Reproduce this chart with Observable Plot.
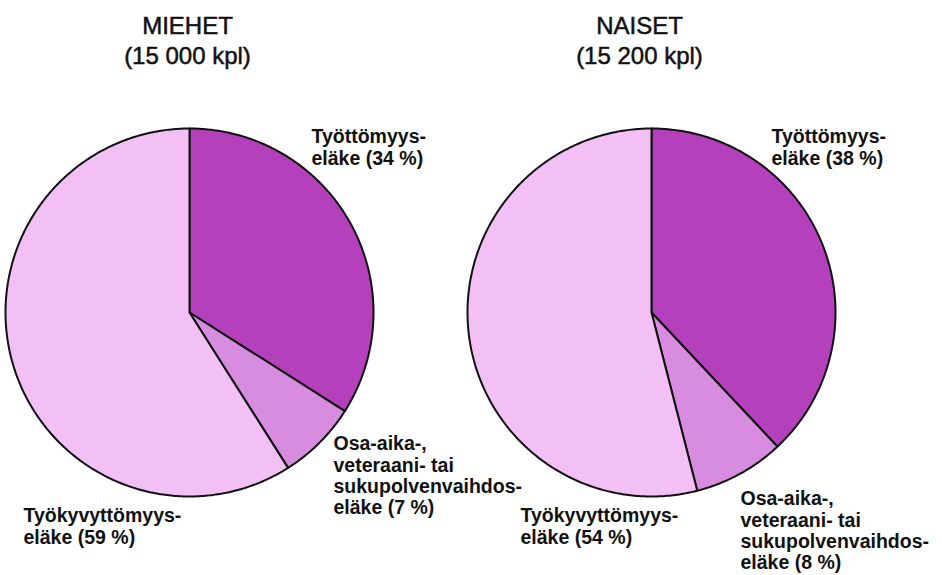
<!DOCTYPE html>
<html>
<head>
<meta charset="utf-8">
<script src="https://cdn.jsdelivr.net/npm/d3@7"></script>
<script src="https://cdn.jsdelivr.net/npm/@observablehq/plot@0.6"></script>
<style>
  html, body { margin: 0; padding: 0; background: #fff; }
  .titles text { stroke: #111; stroke-width: 0.5px; }
</style>
</head>
<body>
<div id="chart"></div>
<script>
// ---- data ----
const groups = ["MIEHET", "NAISET"];
const counts = ["(15 000 kpl)", "(15 200 kpl)"];
const categories = ["Työttömyyseläke", "Osa-aika-, veteraani- tai sukupolvenvaihdoseläke", "Työkyvyttömyyseläke"];
const categoryLines = [["Työttömyys-", "eläke"], ["Osa-aika-,", "veteraani- tai", "sukupolvenvaihdos-", "eläke"], ["Työkyvyttömyys-", "eläke"]];
const miehet = [34, 7, 59];
const naiset = [38, 8, 54];
const values = [miehet, naiset];

// ---- layout ----
const W = 942, H = 575;
const R = 184;
const centers = [[189, 312], [651, 312]];
const titleAnchors = [[187, 12], [639, 12]];
const labelAnchors = [
  [[311, 128], [333, 435], [23, 507]],
  [[771, 128], [740, 490], [520, 507]]
];
const colors = ["#b440bb", "#d88ce0", "#f2c0f4"];

// ---- build pie geometry ----
const pts = [];
const labels = [];
groups.forEach((g, gi) => {
  const [cx, cy] = centers[gi];
  const arcs = d3.pie().sort(null)(values[gi]);
  arcs.forEach((a, ci) => {
    const key = g + "-" + ci;
    const cat = categories[ci];
    const n = Math.max(2, Math.ceil((a.endAngle - a.startAngle) * 90));
    pts.push({key, cat, x: cx, y: cy});
    for (let i = 0; i <= n; i++) {
      const t = a.startAngle + (a.endAngle - a.startAngle) * i / n;
      pts.push({key, cat, x: cx + R * Math.sin(t), y: cy - R * Math.cos(t)});
    }
    pts.push({key, cat, x: cx, y: cy});
    const lines = categoryLines[ci].slice();
    lines[lines.length - 1] = lines[lines.length - 1] + ` (${values[gi][ci]} %)`;
    labels.push({x: labelAnchors[gi][ci][0], y: labelAnchors[gi][ci][1], text: lines.join("\n")});
  });
});
const titles = groups.map((g, gi) => ({x: titleAnchors[gi][0], y: titleAnchors[gi][1], text: g + "\n" + counts[gi]}));

const chart = Plot.plot({
  width: W,
  height: H,
  margin: 0,
  x: {domain: [0, W], range: [0, W], axis: null},
  y: {domain: [0, H], range: [0, H], axis: null},
  color: {domain: categories, range: colors},
  style: {fontFamily: "'Liberation Sans', Arial, sans-serif", background: "#fff"},
  marks: [
    Plot.line(pts, {x: "x", y: "y", z: "key", fill: "cat", stroke: "#111", strokeWidth: 2, strokeLinejoin: "round", curve: "linear"}),
    Plot.text(titles, {x: "x", y: "y", text: "text", textAnchor: "middle", lineAnchor: "top", fontSize: 24, fontWeight: "normal", lineHeight: 1.25, fill: "#111", className: "titles"}),
    Plot.text(labels, {x: "x", y: "y", text: "text", textAnchor: "start", lineAnchor: "top", fontSize: 19.5, fontWeight: "bold", lineHeight: 1.08, fill: "#111"})
  ]
});
document.getElementById("chart").appendChild(chart);
</script>
</body>
</html>
